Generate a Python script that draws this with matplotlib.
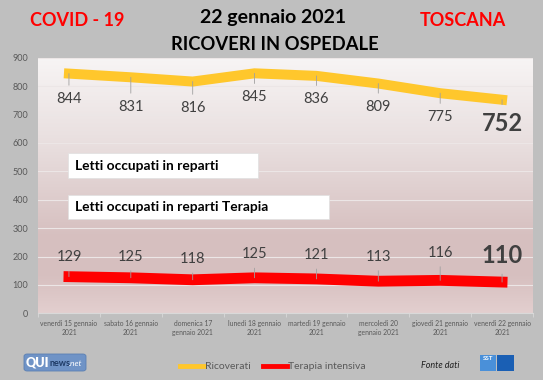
import matplotlib
matplotlib.use("Agg")
import matplotlib.pyplot as plt
import matplotlib.transforms as mtransforms
import numpy as np
from matplotlib.lines import Line2D
from matplotlib.patches import Rectangle, FancyBboxPatch

plt.rcParams['font.family'] = ['Lato', 'DejaVu Sans']

# dati
giorni = ["venerdì 15 gennaio\n2021", "sabato 16 gennaio\n2021", "domenica 17\ngennaio 2021",
          "lunedì 18 gennaio\n2021", "martedì 19 gennaio\n2021", "mercoledì 20\ngennaio 2021",
          "giovedì 21 gennaio\n2021", "venerdì 22 gennaio\n2021"]
ricoverati = [844, 831, 816, 845, 836, 809, 775, 752]
terapia = [129, 125, 118, 125, 121, 113, 116, 110]

# spostamenti etichette (unita' dati / pixel)
dy_ric = [-90, -105, -94, -85, -83, -83, -85, -82]
dx_ric = [2, 4, 4, 2, 3, 2, 0, 5]
dy_ter = [68, 74, 73, 83, 84, 86, 97, 93]
dx_ter = [0, 4, 3, 0, 0, -2, -4, -9]

W, H = 543, 380
fig = plt.figure(figsize=(W / 100, H / 100), dpi=100)
fig.patch.set_facecolor('#bfbfbf')

def fx(px):
    return px / W

def fy(py):
    return 1 - py / H

ax = fig.add_axes([fx(38), fy(313.3), fx(533) - fx(38), fy(57.7) - fy(313.3)])
ax.set_facecolor('none')

# sfondo sfumato area grafico
stops = np.array([0.0, 0.35, 0.7, 0.85, 1.0])
cols = np.array([[0.97, 0.96, 0.96], [0.91, 0.87, 0.87], [0.84, 0.75, 0.75],
                 [0.84, 0.75, 0.75], [0.89, 0.81, 0.81]])
t = np.linspace(0, 1, 200)
grad = np.stack([np.interp(t, stops, cols[:, k]) for k in range(3)], axis=1)
ax.imshow(grad[:, None, :], extent=[0, 1, 0, 1], transform=ax.transAxes,
          aspect='auto', zorder=0, interpolation='bilinear')

x = np.arange(len(giorni))
ax.set_xlim(-0.5, len(giorni) - 0.5)
ax.set_ylim(0, 900)
ax.set_yticks(range(0, 901, 100))
ax.yaxis.grid(True, color='#ece6e6', lw=0.8, zorder=1)
ax.set_axisbelow(True)

ax.plot(x, ricoverati, color='#ffc72c', lw=7.2, solid_capstyle='projecting',
        solid_joinstyle='miter', zorder=3)
ax.plot(x, terapia, color='#ff0000', lw=7.8, solid_capstyle='projecting',
        solid_joinstyle='miter', zorder=3)

n = len(giorni)
for i in range(n):
    big = i == n - 1
    for serie, dy, dx in ((ricoverati, dy_ric, dx_ric), (terapia, dy_ter, dx_ter)):
        a = ax.annotate(str(serie[i]), xy=(x[i], serie[i]),
                        xytext=(x[i], serie[i] + dy[i]), textcoords='data',
                        ha='center', va='center',
                        fontsize=17 if big else 10.5,
                        fontweight='bold' if big else 'normal',
                        color='#404040',
                        arrowprops=dict(arrowstyle='-', color='#a0a0a0', lw=0.6,
                                        shrinkA=3, shrinkB=0),
                        zorder=4)
        a.set_transform(ax.transData + mtransforms.ScaledTranslation(dx[i] / 100, 0, fig.dpi_scale_trans))

ax.set_xticks(x)
ax.set_xticklabels(giorni, fontsize=4.9, color='#595959', linespacing=1.35)
ax.set_xticks(np.arange(-0.5, n), minor=True)
ax.tick_params(axis='x', which='major', length=0, pad=5)
ax.tick_params(axis='x', which='minor', length=3, color='#d9d9d9')
ax.tick_params(axis='y', length=0, labelsize=6.5, labelcolor='#595959', pad=7)
for s in ax.spines.values():
    s.set_visible(False)
ax.spines['bottom'].set_visible(True)
ax.spines['bottom'].set_color('#d9d9d9')

# riquadri descrittivi
for (x0, y0, x1, y1, txt) in [(68, 153, 258, 178, "Letti occupati in reparti"),
                              (68, 195, 329, 219, "Letti occupati in reparti Terapia")]:
    fig.add_artist(Rectangle((fx(x0), fy(y1)), fx(x1) - fx(x0), fy(y0) - fy(y1),
                             transform=fig.transFigure, facecolor='white',
                             edgecolor='#e0e0e0', lw=0.5, zorder=5))
    fig.text(fx(75), fy((y0 + y1) / 2), txt, fontsize=9.9, fontweight='bold',
             color='black', va='center', ha='left', zorder=6)

# titoli
fig.text(fx(273), fy(17), "22 gennaio 2021", fontsize=14, fontweight='bold',
         ha='center', va='center', color='black')
fig.text(fx(275), fy(44), "RICOVERI IN OSPEDALE", fontsize=13.2, fontweight='bold',
         ha='center', va='center', color='black')
fig.text(fx(77), fy(21), "COVID - 19", fontsize=13, fontweight='bold',
         ha='center', va='center', color='#ff0000')
fig.text(fx(463), fy(20), "TOSCANA", fontsize=13, fontweight='bold',
         ha='center', va='center', color='#ff0000')

# legenda
handles = [Line2D([], [], color='#ffc72c', lw=3.5), Line2D([], [], color='#ff0000', lw=3.5)]
fig.legend(handles, ["Ricoverati", "Terapia intensiva"], loc='center',
           bbox_to_anchor=(fx(273), fy(366.5)), ncol=2, frameon=False,
           fontsize=7.5, labelcolor='#595959', handlelength=2.3,
           handletextpad=0.1, columnspacing=1.2)

fig.text(fx(440), fy(365.5), "Fonte dati", fontsize=6.5, style='italic',
         ha='center', va='center', color='#202020')

# logo QUInews
fig.add_artist(FancyBboxPatch((fx(24), fy(371)), fx(86) - fx(24), fy(354) - fy(371),
                              boxstyle='round,pad=0,rounding_size=0.006',
                              transform=fig.transFigure, facecolor='#6f93c6',
                              edgecolor='#5a7fb3', lw=0.6))
fig.text(fx(26), fy(362.5), "QUI", fontsize=9, fontweight='heavy', color='white',
         ha='left', va='center')
fig.text(fx(49), fy(363.5), "news", fontsize=6.5, fontweight='bold', color='#1f3b66',
         ha='left', va='center')
fig.text(fx(69), fy(363.5), ".net", fontsize=6, style='italic', color='white',
         ha='left', va='center')

# logo SST
fig.add_artist(Rectangle((fx(480), fy(371)), fx(496) - fx(480), fy(355) - fy(371),
                         transform=fig.transFigure, facecolor='#4a90d9', lw=0))
fig.add_artist(Rectangle((fx(497), fy(371)), fx(514) - fx(497), fy(355) - fy(371),
                         transform=fig.transFigure, facecolor='#1a5fb4', lw=0))
fig.text(fx(488), fy(359), "SST", fontsize=4.5, fontweight='bold', color='white',
         ha='center', va='center')

fig.savefig("out.png", dpi=100, facecolor=fig.get_facecolor())
